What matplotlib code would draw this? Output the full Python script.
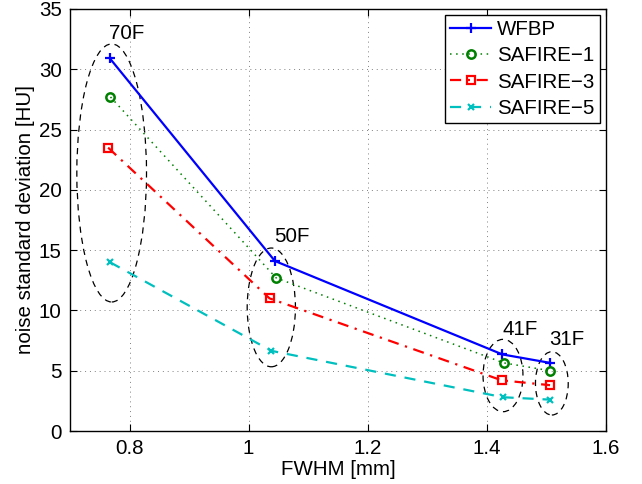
import matplotlib
matplotlib.use('Agg')
from matplotlib import pyplot as plt
from matplotlib.patches import Ellipse

plt.rcParams['font.family'] = ['Liberation Sans', 'DejaVu Sans']

# FWHM [mm] and noise std [HU] per reconstruction kernel (70F, 50F, 41F, 31F)
fwhm_wfbp = [0.767, 1.044, 1.426, 1.506]
fwhm_s1 = [0.768, 1.046, 1.428, 1.506]
fwhm_s3 = [0.764, 1.035, 1.425, 1.506]
fwhm_s5 = [0.767, 1.038, 1.427, 1.506]

noise_wfbp = [30.9, 14.1, 6.35, 5.65]
noise_s1 = [27.7, 12.7, 5.65, 5.0]
noise_s3 = [23.5, 11.0, 4.2, 3.8]
noise_s5 = [14.0, 6.65, 2.8, 2.6]

kernels = ['70F', '50F', '41F', '31F']
# ellipse groups: centre x, centre y, width, height
groups_cx = [0.770, 1.038, 1.427, 1.509]
groups_cy = [21.4, 10.25, 4.6, 3.95]
groups_w = [0.117, 0.081, 0.067, 0.055]
groups_h = [21.4, 9.85, 6.0, 5.25]
label_x = [0.796, 1.073, 1.456, 1.534]
label_y = [33.0, 16.1, 8.4, 7.55]

fs = 14.8

fig = plt.figure(figsize=(6.42, 4.84), dpi=100)
ax = fig.add_axes([0.109, 0.1095, 0.835, 0.872])

ax.plot(fwhm_wfbp, noise_wfbp, '-', color='blue', lw=1.6, marker='+', ms=7, mew=1.6, label='WFBP')
ax.plot(fwhm_s1, noise_s1, linestyle=(0, (1, 3)), color=(0, 0.5, 0), lw=1.1, marker='o', ms=6,
        mew=1.8, mfc='none', label='SAFIRE\u22121')
ax.plot(fwhm_s3, noise_s3, linestyle=(0, (5, 3, 1, 3)), color='red', lw=1.6, marker='s', ms=6,
        mew=1.6, mfc='none', label='SAFIRE\u22123')
ax.plot(fwhm_s5, noise_s5, linestyle=(0, (5, 4)), color=(0, 0.75, 0.75), lw=1.6, marker='x',
        ms=5, mew=1.6, label='SAFIRE\u22125')

for i in range(len(kernels)):
    e = Ellipse((groups_cx[i], groups_cy[i]), groups_w[i], groups_h[i], fill=False,
                edgecolor='black', lw=0.9, linestyle=(0, (5, 4)))
    ax.add_patch(e)
    ax.text(label_x[i], label_y[i], kernels[i], fontsize=fs, ha='center', va='center')

ax.set_xlim(0.7, 1.6)
ax.set_ylim(0, 35)
ax.set_xticks([0.8, 1.0, 1.2, 1.4, 1.6])
ax.set_xticklabels(['0.8', '1', '1.2', '1.4', '1.6'])
ax.set_yticks(range(0, 36, 5))
ax.tick_params(direction='in', top=True, right=True, labelsize=fs, length=5, width=0.8, pad=6)
ax.grid(True, linestyle=(0, (1, 4)), color='0.5', lw=0.7)
for s in ax.spines.values():
    s.set_linewidth(1.0)

ax.set_xlabel('FWHM [mm]', fontsize=fs, labelpad=1)
ax.set_ylabel('noise standard deviation [HU]', fontsize=fs, labelpad=3)

leg = ax.legend(loc='upper right', fontsize=fs, fancybox=False, edgecolor='black', framealpha=1,
                borderpad=0.25, labelspacing=0.35, handlelength=2.0, handletextpad=0.3,
                borderaxespad=0.3)
leg.get_frame().set_linewidth(1.0)

fig.savefig('out.png', dpi=100)
